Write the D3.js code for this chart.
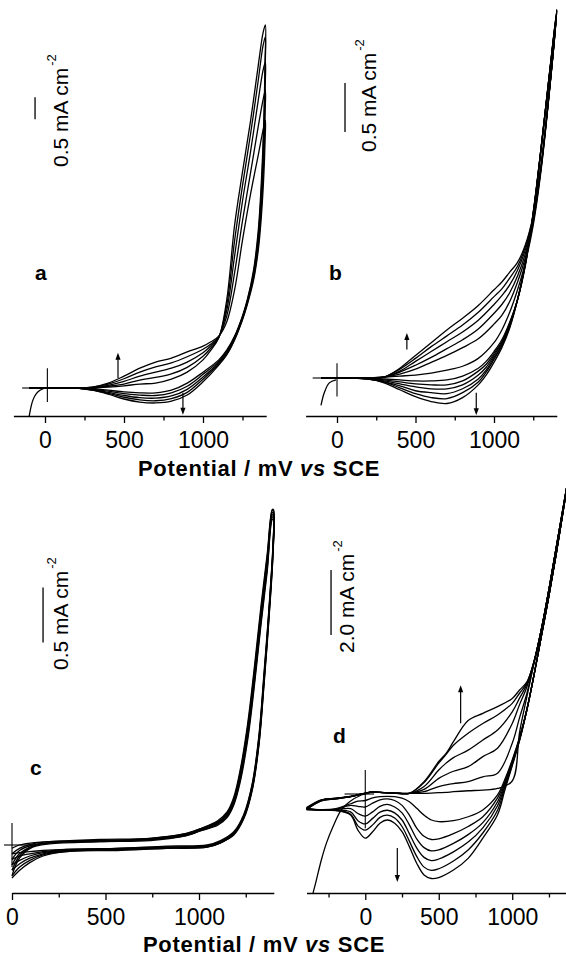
<!DOCTYPE html>
<html>
<head>
<meta charset="utf-8">
<script src="https://cdn.jsdelivr.net/npm/d3@7"></script>
<style>
  body { margin: 0; background: #fff; }
  text { font-family: "Liberation Sans", Arial, Helvetica, sans-serif; fill: #000; }
</style>
</head>
<body>
<svg id="chart" width="566" height="959"></svg>
<script>
// ---- data: potentials in mV vs SCE, currents in mA cm-2 ----
var majorTicks = [0, 500, 1000];
var minorTicksAB = [250, 750, 1250];
var minorTicksC = [250, 750, 1250];
var minorTicksD = [-250, 250, 750, 1250];

// panel a
var aInitE = [-100, -90, -76, -55, -32, 0];
var aInitI = [-0.64, -0.45, -0.27, -0.13, -0.05, 0];
var aFwdE = [-100, 0, 100, 200, 300, 400, 500, 600, 700, 800, 900, 1000, 1050, 1100, 1150, 1200, 1250, 1300, 1350, 1380, 1395];
var aFwdI = [
  [0, 0, 0, 0, 0, 0.02, 0.05, 0.09, 0.11, 0.20, 0.36, 0.64, 0.86, 1.14, 2.00, 3.70, 4.91, 6.05, 7.34, 8.07, 8.25],
  [0, 0, 0, 0, 0.01, 0.04, 0.09, 0.18, 0.24, 0.32, 0.47, 0.72, 0.91, 1.15, 1.88, 3.35, 4.60, 5.75, 7.00, 7.78, 7.98],
  [0, 0, 0, 0, 0.01, 0.06, 0.15, 0.27, 0.36, 0.45, 0.59, 0.80, 0.96, 1.16, 1.76, 3.00, 4.25, 5.35, 6.55, 7.22, 7.41],
  [0, 0, 0, 0, 0.02, 0.09, 0.21, 0.36, 0.48, 0.57, 0.71, 0.88, 1.00, 1.17, 1.63, 2.62, 3.80, 4.87, 5.95, 6.55, 6.77],
  [0, 0, 0, 0, 0.02, 0.11, 0.27, 0.45, 0.59, 0.68, 0.82, 0.95, 1.05, 1.18, 1.50, 2.23, 3.36, 4.39, 5.30, 5.86, 6.09]
];
var aRevE = [1395, 1393, 1385, 1370, 1350, 1320, 1280, 1250, 1200, 1150, 1100, 1000, 900, 800, 700, 600, 500, 400, 300, 200, 100, 0, -100];
var aRevI = [
  [8.25, 7.45, 6.09, 4.73, 3.59, 2.68, 2.00, 1.64, 1.18, 0.86, 0.64, 0.36, 0.11, -0.05, -0.11, -0.11, -0.09, -0.05, -0.02, 0, 0, 0, 0],
  [7.98, 7.25, 5.85, 4.55, 3.48, 2.62, 1.98, 1.62, 1.16, 0.83, 0.61, 0.31, 0.04, -0.11, -0.17, -0.16, -0.13, -0.07, -0.03, 0, 0, 0, 0],
  [7.41, 6.80, 5.55, 4.35, 3.38, 2.56, 1.95, 1.60, 1.14, 0.80, 0.58, 0.25, -0.03, -0.18, -0.23, -0.22, -0.17, -0.10, -0.04, 0, 0, 0, 0],
  [6.77, 6.25, 5.20, 4.15, 3.25, 2.50, 1.92, 1.57, 1.11, 0.77, 0.55, 0.20, -0.10, -0.24, -0.29, -0.27, -0.21, -0.12, -0.05, 0, 0, 0, 0],
  [6.09, 5.64, 4.84, 3.93, 3.14, 2.45, 1.89, 1.55, 1.09, 0.75, 0.52, 0.14, -0.16, -0.30, -0.34, -0.32, -0.25, -0.14, -0.05, 0, 0, 0, 0]
];

// panel b
var bInitE = [-102, -81, -49, -6];
var bInitI = [-0.28, -0.15, -0.05, -0.02];
var bFwdE = [-100, 0, 100, 200, 300, 400, 500, 600, 700, 800, 900, 1000, 1050, 1100, 1150, 1200, 1250, 1300, 1350, 1400];
var bFwdI = [
  [0, 0, 0, 0, 0.01, 0.02, 0.03, 0.05, 0.08, 0.12, 0.20, 0.36, 0.49, 0.67, 0.90, 1.18, 1.56, 2.12, 2.87, 3.73],
  [0, 0, 0, 0, 0.01, 0.04, 0.09, 0.16, 0.23, 0.31, 0.40, 0.55, 0.64, 0.78, 0.98, 1.23, 1.59, 2.14, 2.88, 3.74],
  [0, 0, 0, 0, 0.01, 0.06, 0.13, 0.21, 0.30, 0.39, 0.50, 0.66, 0.75, 0.87, 1.04, 1.27, 1.61, 2.15, 2.88, 3.75],
  [0, 0, 0, 0, 0.01, 0.07, 0.17, 0.27, 0.37, 0.47, 0.59, 0.75, 0.84, 0.95, 1.10, 1.31, 1.63, 2.16, 2.89, 3.75],
  [0, 0, 0, 0, 0.01, 0.09, 0.20, 0.32, 0.43, 0.54, 0.67, 0.83, 0.91, 1.02, 1.14, 1.34, 1.65, 2.17, 2.89, 3.76],
  [0, 0, 0, 0, 0.01, 0.10, 0.23, 0.36, 0.49, 0.61, 0.74, 0.90, 0.98, 1.08, 1.18, 1.36, 1.66, 2.17, 2.89, 3.76]
];
var bRevE = [1400, 1350, 1300, 1250, 1200, 1150, 1100, 1050, 1000, 950, 900, 800, 700, 600, 500, 400, 300, 200, 100, 0, -100];
var bRevI = [
  [3.73, 3.04, 2.33, 1.66, 1.15, 0.80, 0.57, 0.39, 0.27, 0.17, 0.10, 0.02, -0.02, -0.03, -0.03, -0.02, -0.01, 0, 0, 0, 0],
  [3.74, 3.05, 2.34, 1.67, 1.16, 0.80, 0.56, 0.37, 0.25, 0.14, 0.07, -0.03, -0.07, -0.07, -0.06, -0.04, -0.02, 0, 0, 0, 0],
  [3.75, 3.05, 2.34, 1.68, 1.17, 0.80, 0.55, 0.36, 0.23, 0.11, 0.03, -0.07, -0.11, -0.11, -0.09, -0.06, -0.03, -0.01, 0, 0, 0],
  [3.75, 3.06, 2.35, 1.68, 1.17, 0.80, 0.54, 0.34, 0.21, 0.08, -0.01, -0.11, -0.16, -0.15, -0.13, -0.08, -0.04, -0.01, 0, 0, 0],
  [3.76, 3.06, 2.35, 1.69, 1.18, 0.80, 0.52, 0.33, 0.19, 0.06, -0.04, -0.15, -0.21, -0.20, -0.16, -0.10, -0.04, -0.01, 0, 0, 0],
  [3.76, 3.06, 2.35, 1.69, 1.18, 0.80, 0.51, 0.31, 0.16, 0.03, -0.07, -0.20, -0.26, -0.24, -0.19, -0.12, -0.05, -0.01, 0, 0, 0]
];

// panel c
var cFwdE = [0, 40, 110, 200, 470, 740, 920, 1010, 1100, 1150, 1185, 1220, 1260, 1295, 1330, 1365, 1392];
var cFwdI = [
  [-0.03, 0.00, 0.02, 0.03, 0.05, 0.06, 0.10, 0.15, 0.22, 0.30, 0.43, 0.68, 1.10, 1.60, 2.15, 2.65, 3.05],
  [-0.08, -0.03, 0.01, 0.03, 0.04, 0.06, 0.10, 0.15, 0.21, 0.29, 0.41, 0.66, 1.07, 1.56, 2.11, 2.62, 3.04],
  [-0.13, -0.05, 0.00, 0.02, 0.04, 0.05, 0.09, 0.14, 0.20, 0.28, 0.40, 0.63, 1.04, 1.52, 2.07, 2.58, 3.02],
  [-0.18, -0.08, -0.01, 0.02, 0.04, 0.05, 0.09, 0.14, 0.20, 0.27, 0.38, 0.61, 1.01, 1.49, 2.04, 2.55, 3.00],
  [-0.23, -0.10, -0.01, 0.02, 0.03, 0.05, 0.08, 0.13, 0.19, 0.26, 0.37, 0.59, 0.98, 1.46, 2.01, 2.52, 2.98],
  [-0.28, -0.12, -0.02, 0.01, 0.03, 0.04, 0.08, 0.13, 0.18, 0.25, 0.36, 0.57, 0.95, 1.43, 1.98, 2.49, 2.96]
];
var cRevE = [1398, 1396, 1374, 1347, 1320, 1285, 1240, 1186, 1115, 1043, 828, 560, 292, 166, 95, 41, 0];
var cRevI = [
  [3.05, 2.75, 2.15, 1.55, 0.99, 0.56, 0.28, 0.12, 0.04, 0.00, -0.01, -0.03, -0.04, -0.05, -0.06, -0.07, -0.08],
  [3.04, 2.73, 2.13, 1.52, 0.97, 0.55, 0.27, 0.11, 0.03, -0.01, -0.02, -0.03, -0.04, -0.06, -0.08, -0.10, -0.13],
  [3.02, 2.71, 2.11, 1.50, 0.95, 0.53, 0.26, 0.11, 0.03, -0.01, -0.02, -0.04, -0.05, -0.07, -0.10, -0.14, -0.18],
  [3.00, 2.69, 2.09, 1.48, 0.93, 0.52, 0.25, 0.10, 0.02, -0.01, -0.02, -0.04, -0.05, -0.08, -0.12, -0.17, -0.23],
  [2.98, 2.67, 2.07, 1.46, 0.91, 0.51, 0.25, 0.10, 0.02, -0.02, -0.03, -0.04, -0.06, -0.09, -0.14, -0.20, -0.28],
  [2.96, 2.65, 2.05, 1.44, 0.90, 0.50, 0.24, 0.09, 0.02, -0.02, -0.03, -0.05, -0.06, -0.10, -0.16, -0.23, -0.30]
];

// panel d
var dInitE = [-356, -333, -299, -265, -220, -163, -107, -27, 20];
var dInitI = [-3.06, -2.65, -2.03, -1.52, -1.01, -0.49, -0.24, -0.03, 0.03];
var dFwdE = [-400, -300, -200, -100, 0, 50, 100, 200, 300, 400, 500, 550, 600, 700, 800, 900, 1000, 1050, 1100, 1150, 1200, 1250, 1300, 1350, 1400];
var dFwdI = [
  [-0.42, -0.18, -0.13, -0.07, 0.03, 0.07, 0.05, 0.03, 0.02, 0.02, 0.04, 0.05, 0.07, 0.10, 0.12, 0.17, 0.40, 1.90, 3.00, 4.05, 5.10, 6.30, 7.60, 8.90, 10.20],
  [-0.44, -0.19, -0.13, -0.07, 0.03, 0.07, 0.05, 0.03, 0.02, 0.07, 0.23, 0.28, 0.32, 0.38, 0.53, 0.64, 1.56, 2.35, 3.10, 4.08, 5.10, 6.30, 7.60, 8.90, 10.20],
  [-0.45, -0.20, -0.14, -0.08, 0.02, 0.06, 0.05, 0.03, 0.02, 0.14, 0.48, 0.60, 0.70, 0.84, 1.15, 1.41, 2.17, 2.75, 3.30, 4.10, 5.10, 6.30, 7.60, 8.90, 10.20],
  [-0.46, -0.20, -0.14, -0.08, 0.02, 0.06, 0.05, 0.03, 0.02, 0.23, 0.74, 0.95, 1.12, 1.35, 1.66, 1.97, 2.53, 2.95, 3.38, 4.10, 5.10, 6.30, 7.60, 8.90, 10.20],
  [-0.47, -0.21, -0.15, -0.08, 0.02, 0.06, 0.05, 0.03, 0.02, 0.35, 0.95, 1.22, 1.50, 1.87, 2.17, 2.43, 2.79, 3.10, 3.42, 4.10, 5.10, 6.30, 7.60, 8.90, 10.20],
  [-0.48, -0.21, -0.15, -0.08, 0.02, 0.06, 0.05, 0.03, 0.02, 0.38, 1.00, 1.25, 1.61, 2.26, 2.48, 2.69, 2.94, 3.20, 3.45, 4.10, 5.10, 6.30, 7.60, 8.90, 10.20]
];
var dRevE = [1400, 1350, 1300, 1250, 1200, 1150, 1100, 1050, 1000, 950, 900, 800, 700, 600, 500, 450, 400, 350, 300, 250, 200, 150, 100, 50, 0, -50, -100, -200, -300, -400];
var dRevI = [
  [10.2, 8.8, 7.4, 6.1, 4.9, 3.7, 2.6, 1.75, 1.05, 0.45, -0.03, -0.49, -0.70, -0.82, -0.85, -0.80, -0.65, -0.44, -0.24, -0.13, -0.08, -0.07, -0.08, -0.12, -0.20, -0.22, -0.30, -0.45, -0.48, -0.44],
  [10.2, 8.8, 7.4, 6.1, 4.9, 3.7, 2.6, 1.72, 1.00, 0.38, -0.12, -0.70, -1.00, -1.22, -1.38, -1.40, -1.30, -1.05, -0.65, -0.35, -0.20, -0.15, -0.18, -0.28, -0.40, -0.38, -0.35, -0.47, -0.49, -0.45],
  [10.2, 8.8, 7.4, 6.1, 4.9, 3.7, 2.6, 1.70, 0.97, 0.32, -0.24, -0.88, -1.25, -1.52, -1.72, -1.75, -1.65, -1.38, -0.95, -0.58, -0.40, -0.32, -0.38, -0.55, -0.68, -0.60, -0.45, -0.48, -0.49, -0.46],
  [10.2, 8.8, 7.4, 6.1, 4.9, 3.7, 2.6, 1.68, 0.94, 0.26, -0.36, -1.04, -1.48, -1.78, -2.00, -2.05, -1.95, -1.66, -1.22, -0.80, -0.58, -0.50, -0.56, -0.75, -0.92, -0.82, -0.55, -0.49, -0.49, -0.47],
  [10.2, 8.8, 7.4, 6.1, 4.9, 3.7, 2.6, 1.66, 0.90, 0.20, -0.50, -1.20, -1.72, -2.06, -2.30, -2.35, -2.25, -1.92, -1.45, -1.00, -0.74, -0.65, -0.72, -0.95, -1.11, -0.98, -0.62, -0.50, -0.49, -0.48],
  [10.2, 8.8, 7.4, 6.1, 4.9, 3.7, 2.6, 1.64, 0.87, 0.12, -0.64, -1.36, -1.98, -2.34, -2.57, -2.60, -2.49, -2.13, -1.62, -1.16, -0.90, -0.80, -0.90, -1.16, -1.36, -1.11, -0.65, -0.51, -0.49, -0.48]
];

// ---- layout ----
var svg = d3.select("#chart");
var FONT = '"Liberation Sans", Arial, Helvetica, sans-serif';

var panels = [
  { letter: "a", letterPos: [35, 280],
    xDom: [-200, 1400], xRng: [13.4, 266.2], y0: 388, ky: 44, axisY: 416, minors: minorTicksAB,
    initE: aInitE, initI: aInitI, fwdE: aFwdE, fwdI: aFwdI, revE: aRevE, revI: aRevI,
    cross: { E: 15, h: [-145, 40], v: [0.45, -0.32] },
    bar: { E: -63, I: [6.11, 6.61], text: "0.5 mA cm", textPos: [68, 167] },
    arrows: [{ E: 462, from: 0.23, to: 0.80 }, { E: 873, from: -0.11, to: -0.61 }] },
  { letter: "b", letterPos: [329, 280],
    xDom: [-200, 1400], xRng: [305.6, 556.8], y0: 378, ky: 98, axisY: 416, minors: minorTicksAB,
    initE: bInitE, initI: bInitI, fwdE: bFwdE, fwdI: bFwdI, revE: bRevE, revI: bRevI,
    cross: { E: 0, h: [-155, 30], v: [0.15, -0.19] },
    bar: { E: 51, I: [2.51, 3.01], text: "0.5 mA cm", textPos: [376, 152] },
    arrows: [{ E: 445, from: 0.29, to: 0.46 }, { E: 887, from: -0.15, to: -0.38 }] },
  { letter: "c", letterPos: [30, 775],
    xDom: [0, 1400], xRng: [12, 273.8], y0: 845, ky: 110, axisY: 893, minors: minorTicksC,
    initE: null, initI: null, fwdE: cFwdE, fwdI: cFwdI, revE: cRevE, revI: cRevI,
    cross: { E: 0, h: [-43, 112], v: [0.2, -0.2] },
    bar: { E: 166, I: [1.84, 2.34], text: "0.5 mA cm", textPos: [68, 670] },
    arrows: [] },
  { letter: "d", letterPos: [333, 743],
    xDom: [-400, 1400], xRng: [306.5, 571], y0: 794, ky: 32.5, axisY: 893, minors: minorTicksD,
    initE: dInitE, initI: dInitI, fwdE: dFwdE, fwdI: dFwdI, revE: dRevE, revI: dRevI,
    cross: { E: 0, h: [-141, 60], v: [0.74, -1.05] },
    bar: { E: -233, I: [4.89, 6.89], text: "2.0 mA cm", textPos: [354, 653] },
    arrows: [{ E: 649, from: 2.18, to: 3.35 }, { E: 218, from: -1.66, to: -2.71 }] }
];

function drawPanel(p) {
  var x = d3.scaleLinear().domain(p.xDom).range(p.xRng);
  var y = d3.scaleLinear().domain([0, 1]).range([p.y0, p.y0 - p.ky]);
  var g = svg.append("g");
  var line = d3.line()
    .x(function(d) { return x(d[0]); })
    .y(function(d) { return y(d[1]); })
    .curve(d3.curveCatmullRom.alpha(0.5));

  // cycles: forward sweep joined to the reverse sweep
  p.fwdI.forEach(function(fi, k) {
    var pts = p.fwdE.map(function(e, i) { return [e, fi[i]]; });
    var last = pts[pts.length - 1];
    p.revE.forEach(function(e, i) {
      var v = p.revI[k][i];
      if (i === 0 && e === last[0] && v === last[1]) return;
      pts.push([e, v]);
    });
    g.append("path").attr("d", line(pts))
      .attr("fill", "none").attr("stroke", "#000").attr("stroke-width", 1.3)
      .attr("stroke-linejoin", "round");
  });

  if (p.initE) {
    var ip = p.initE.map(function(e, i) { return [e, p.initI[i]]; });
    g.append("path").attr("d", line(ip))
      .attr("fill", "none").attr("stroke", "#000").attr("stroke-width", 1.3);
  }

  // zero cross
  g.append("line").attr("x1", x(p.cross.h[0])).attr("x2", x(p.cross.h[1]))
    .attr("y1", y(0)).attr("y2", y(0)).attr("stroke", "#000").attr("stroke-width", 1.1);
  g.append("line").attr("x1", x(p.cross.E)).attr("x2", x(p.cross.E))
    .attr("y1", y(p.cross.v[0])).attr("y2", y(p.cross.v[1])).attr("stroke", "#000").attr("stroke-width", 1.1);

  // arrows
  p.arrows.forEach(function(a) {
    var ax = x(a.E), y1 = y(a.from), y2 = y(a.to);
    var dir = y2 < y1 ? -1 : 1;
    g.append("line").attr("x1", ax).attr("x2", ax).attr("y1", y1).attr("y2", y2 - dir * 5)
      .attr("stroke", "#000").attr("stroke-width", 1.2);
    g.append("path")
      .attr("d", "M" + ax + "," + y2 + "L" + (ax - 2.6) + "," + (y2 - dir * 7) + "L" + (ax + 2.6) + "," + (y2 - dir * 7) + "Z")
      .attr("fill", "#000");
  });

  // x axis
  var major = d3.axisBottom(x).tickValues(majorTicks).tickSize(7).tickSizeOuter(0).tickFormat(d3.format("d"));
  var axg = g.append("g").attr("transform", "translate(0," + p.axisY + ")").call(major);
  axg.attr("font-family", FONT).attr("font-size", 23);
  axg.select(".domain").attr("stroke-width", 1.4);
  axg.selectAll(".tick line").attr("stroke-width", 1.3);
  axg.selectAll(".tick text").attr("y", 32).attr("dy", 0).attr("fill", "#000");
  var minor = d3.axisBottom(x).tickValues(p.minors).tickSize(4.5).tickSizeOuter(0).tickFormat("");
  var mg = g.append("g").attr("transform", "translate(0," + p.axisY + ")").call(minor);
  mg.select(".domain").remove();
  mg.selectAll(".tick line").attr("stroke-width", 1.3);

  // scale bar
  g.append("line").attr("x1", x(p.bar.E)).attr("x2", x(p.bar.E))
    .attr("y1", y(p.bar.I[0])).attr("y2", y(p.bar.I[1]))
    .attr("stroke", "#000").attr("stroke-width", 1.3);
  var lab = g.append("text")
    .attr("transform", "translate(" + p.bar.textPos[0] + "," + p.bar.textPos[1] + ") rotate(-90)")
    .attr("font-size", 21);
  lab.append("tspan").text(p.bar.text);
  lab.append("tspan").attr("font-size", 13).attr("dy", -12).attr("dx", 2).text("-2");

  // panel letter
  g.append("text").attr("x", p.letterPos[0]).attr("y", p.letterPos[1])
    .attr("font-size", 21).attr("font-weight", "bold").text(p.letter);
}

panels.forEach(drawPanel);

// axis titles
function axisTitle(xPos, yPos) {
  var t = svg.append("text").attr("x", xPos).attr("y", yPos)
    .attr("font-size", 22).attr("font-weight", "bold").attr("letter-spacing", 0.7);
  t.append("tspan").text("Potential / mV ");
  t.append("tspan").attr("font-style", "italic").text("vs");
  t.append("tspan").text(" SCE");
}
axisTitle(138, 476);
axisTitle(143, 952);
</script>
</body>
</html>
